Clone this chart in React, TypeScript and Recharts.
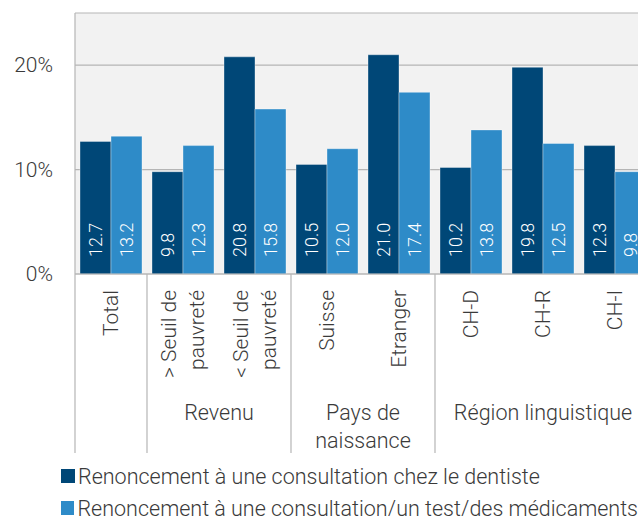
import React from 'react';
import {
  BarChart, Bar, LabelList,
  XAxis, YAxis, CartesianGrid, Legend,
} from 'recharts';

const CATEGORY_LINES: string[][] = [
  ['Total'],
  ['> Seuil de', 'pauvreté'],
  ['< Seuil de', 'pauvreté'],
  ['Suisse'],
  ['Etranger'],
  ['CH-D'],
  ['CH-R'],
  ['CH-I'],
];
const DENTIST = [12.7, 9.8, 20.8, 10.5, 21.0, 10.2, 19.8, 12.3];
const CONSULT = [13.2, 12.3, 15.8, 12.0, 17.4, 13.8, 12.5, 9.8];

const GROUPS = [
  { lines: [] as string[], from: 0, to: 0 },
  { lines: ['Revenu'], from: 1, to: 2 },
  { lines: ['Pays de', 'naissance'], from: 3, to: 4 },
  { lines: ['Région linguistique'], from: 5, to: 7 },
];

const SERIES = [
  { key: 'dentist', name: 'Renoncement à une consultation chez le dentiste', color: '#004777' },
  { key: 'consult', name: 'Renoncement à une consultation/un test/des médicaments', color: '#2e8bc8' },
];

const Y_TICKS = [0, 10, 20, 25];

const data = CATEGORY_LINES.map((lines, i) => ({
  name: lines.join(' '),
  dentist: DENTIST[i],
  consult: CONSULT[i],
}));

// layout
const CHART_W = 660;
const CHART_H = 516;
const Y_AXIS_W = 75;
const MARGIN = { top: 13, right: 9, left: 0, bottom: 0 };
const BAND = (CHART_W - MARGIN.left - MARGIN.right - Y_AXIS_W) / CATEGORY_LINES.length;
const X_AXIS_H = 186;
const SEP_H = 179;
const FONT = 'Roboto, "Noto Sans", sans-serif';
const TEXT = '#3a3a3a';
const GRID = '#b5b5b5';

function CategoryTick(props: any) {
  const { x, y, payload } = props;
  const i = payload.index;
  const lines = CATEGORY_LINES[i] ?? [];
  const lineGap = 28;
  const top = y + 16;
  const startGroup = GROUPS.find((g) => g.from === i);
  const endGroup = GROUPS.find((g) => g.to === i);
  return (
    <g>
      {lines.map((l, k) => {
        const lx = x + (k - (lines.length - 1) / 2) * lineGap;
        return (
          <text
            key={k}
            x={lx}
            y={top}
            transform={`rotate(-90, ${lx}, ${top})`}
            textAnchor="end"
            dominantBaseline="central"
            fill={TEXT}
            fontSize={21}
            fontWeight={300}
            fontFamily={FONT}
          >
            {l}
          </text>
        );
      })}
      {startGroup && (
        <>
          <line x1={x - BAND / 2} x2={x - BAND / 2} y1={y} y2={y + SEP_H} stroke={GRID} strokeWidth={1.2} />
          {startGroup.lines.map((l, k) => (
            <text
              key={k}
              x={x + ((startGroup.to - startGroup.from) * BAND) / 2}
              y={y + 138 + k * 28}
              textAnchor="middle"
              dominantBaseline="central"
              fill={TEXT}
              fontSize={21.5}
              fontWeight={300}
              fontFamily={FONT}
            >
              {l}
            </text>
          ))}
        </>
      )}
      {endGroup && i === CATEGORY_LINES.length - 1 && (
        <line x1={x + BAND / 2} x2={x + BAND / 2} y1={y} y2={y + SEP_H} stroke={GRID} strokeWidth={1.2} />
      )}
    </g>
  );
}

function PercentTick(props: any) {
  const { x, y, payload } = props;
  if (payload.value === 25) return null;
  return (
    <text
      x={x}
      y={y}
      textAnchor="end"
      dominantBaseline="central"
      fill={TEXT}
      fontSize={21}
      fontWeight={300}
      fontFamily={FONT}
    >
      {`${payload.value}%`}
    </text>
  );
}

function BarValue(props: any) {
  const { x, y, width, height, value } = props;
  const cx = x + width / 2;
  const by = y + height - 17;
  return (
    <text
      x={cx}
      y={by}
      transform={`rotate(-90, ${cx}, ${by})`}
      textAnchor="start"
      dominantBaseline="central"
      fill="#ffffff"
      fontSize={18}
      fontWeight={300}
      fontFamily={FONT}
    >
      {Number(value).toFixed(1)}
    </text>
  );
}

function LegendBox() {
  return (
    <div style={{ height: 56, paddingLeft: 61, fontFamily: FONT, fontWeight: 300, fontSize: 21.5, color: TEXT }}>
      {SERIES.map((s) => (
        <div key={s.key} style={{ display: 'flex', alignItems: 'center', height: 32, whiteSpace: 'nowrap' }}>
          <span style={{ display: 'inline-block', width: 14, height: 14, background: s.color, marginRight: 3 }} />
          {s.name}
        </div>
      ))}
    </div>
  );
}

export default function App() {
  return (
    <div style={{ position: 'fixed', left: 0, top: 0, width: 638, height: 516, overflow: 'hidden', background: '#fff' }}>
      <BarChart
        width={CHART_W}
        height={CHART_H}
        data={data}
        margin={MARGIN}
        barCategoryGap={5}
        barGap={0}
      >
        <CartesianGrid vertical={false} stroke={GRID} strokeWidth={1.2} fill="#f2f2f2" />
        <XAxis
          dataKey="name"
          interval={0}
          height={X_AXIS_H}
          tickLine={false}
          tickSize={0}
          tickMargin={0}
          axisLine={{ stroke: GRID, strokeWidth: 1.2 }}
          tick={<CategoryTick />}
        />
        <YAxis
          width={Y_AXIS_W}
          domain={[0, 25]}
          ticks={Y_TICKS}
          tickLine={false}
          tickSize={0}
          tickMargin={22}
          axisLine={{ stroke: GRID, strokeWidth: 1.2 }}
          tick={<PercentTick />}
        />
        <Legend
          verticalAlign="bottom"
          content={<LegendBox />}
          wrapperStyle={{ left: 0, width: 638 }}
        />
        {SERIES.map((s) => (
          <Bar
            key={s.key}
            dataKey={s.key}
            name={s.name}
            fill={s.color}
            stroke="rgba(255,255,255,0.35)"
            strokeWidth={1}
            isAnimationActive={false}
          >
            <LabelList dataKey={s.key} content={<BarValue />} />
          </Bar>
        ))}
      </BarChart>
    </div>
  );
}
